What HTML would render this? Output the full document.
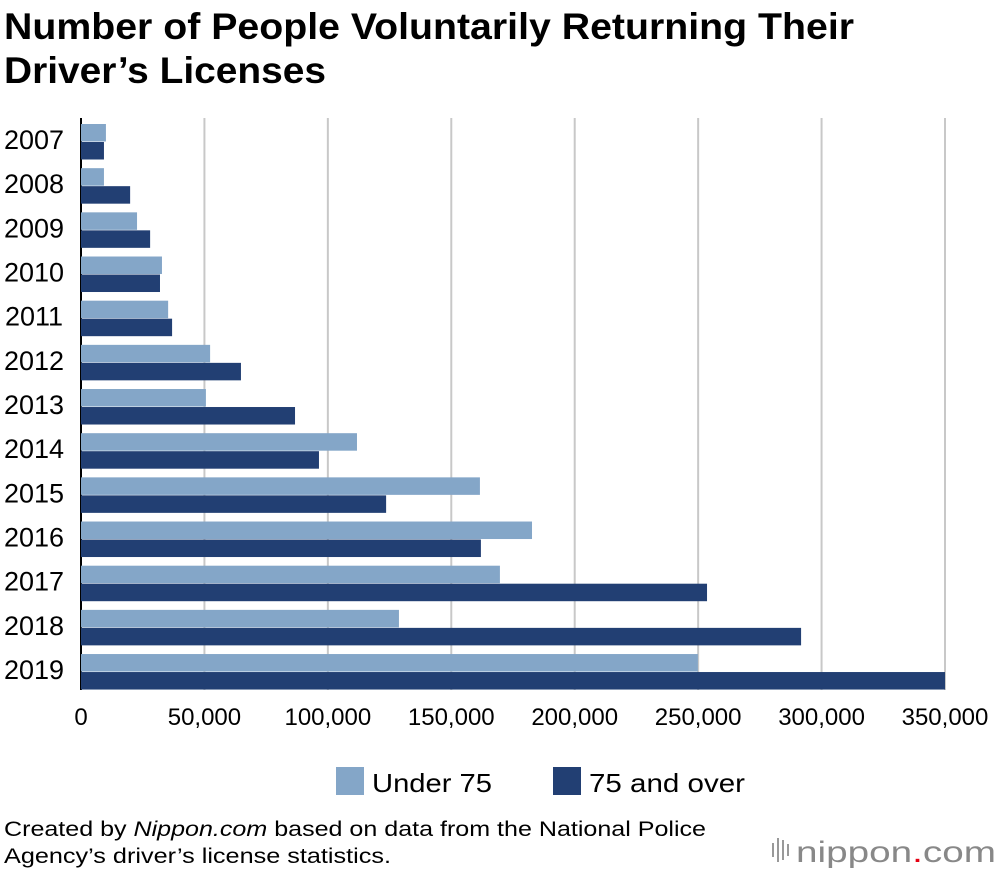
<!DOCTYPE html>
<html><head><meta charset="utf-8"><style>
body{margin:0;background:#fff;font-family:"Liberation Sans",Arial,sans-serif;}
#wrap{position:relative;width:1000px;height:872px;overflow:hidden;}
</style></head><body>
<div id="wrap">
<svg id="chart" width="1000" height="872" xmlns="http://www.w3.org/2000/svg">
<text x="4" y="39" font-size="37" font-weight="bold" fill="#000" textLength="850" lengthAdjust="spacingAndGlyphs">Number of People Voluntarily Returning Their</text>
<text x="4" y="83" font-size="37" font-weight="bold" fill="#000" textLength="322" lengthAdjust="spacingAndGlyphs">Driver’s Licenses</text>
<g id="grid"></g><g id="bars"></g><g id="ylabels"></g><g id="xlabels"></g>
<g>
<rect x="336" y="767" width="28" height="28" fill="#84a6c8"/>
<text x="372" y="792" font-size="26" fill="#000" textLength="120" lengthAdjust="spacingAndGlyphs">Under 75</text>
<rect x="553" y="767" width="28" height="28" fill="#223f73"/>
<text x="589" y="792" font-size="26" fill="#000" textLength="156" lengthAdjust="spacingAndGlyphs">75 and over</text>
</g>
<text x="4" y="836" font-size="21" fill="#000" textLength="702" lengthAdjust="spacingAndGlyphs">Created by <tspan font-style="italic">Nippon.com</tspan> based on data from the National Police</text>
<text x="4" y="863" font-size="21" fill="#000" textLength="387" lengthAdjust="spacingAndGlyphs">Agency’s driver’s license statistics.</text>
<g>
<rect x="772" y="843" width="2" height="14" fill="#999"/><rect x="777" y="838" width="2" height="24" fill="#999"/><rect x="782" y="840" width="2" height="20" fill="#999"/><rect x="787" y="844" width="2" height="12" fill="#999"/>
<text x="796" y="862" font-size="30" fill="#888" textLength="200" lengthAdjust="spacingAndGlyphs">nippon<tspan fill="#e60012">.</tspan>com</text>
</g>
</svg>
</div>
<script>
const years=["2007","2008","2009","2010","2011","2012","2013","2014","2015","2016","2017","2018","2019"];
const under75=[10100,9300,22700,32800,35300,52300,50600,111800,161600,182700,169700,128800,249900];
const over75=[9300,19900,28000,32000,36900,64800,86700,96400,123600,162000,253600,291700,350000];
const xTicks=[0,50000,100000,150000,200000,250000,300000,350000];
const tickLabels=["0","50,000","100,000","150,000","200,000","250,000","300,000","350,000"];
const NS="http://www.w3.org/2000/svg";
const X0=81,X1=945,XMAX=350000,ROWTOP=123,PITCH=44.17,BH=17.5;
const xs=v=>X0+(v/XMAX)*(X1-X0);
function mk(t,a,p){const e=document.createElementNS(NS,t);for(const k in a)e.setAttribute(k,a[k]);p.appendChild(e);return e;}
const grid=document.getElementById('grid'),bars=document.getElementById('bars'),yl=document.getElementById('ylabels'),xl=document.getElementById('xlabels');
xTicks.forEach((t,i)=>{
 if(i>0){const l=mk('line',{x1:xs(t),x2:xs(t),y1:118,y2:690,stroke:'#c8c8c8','stroke-width':2},grid);
 
 }
 const tx=mk('text',{x:xs(t),y:725,'font-size':24,'text-anchor':'middle',fill:'#000'},xl);
 tx.textContent=tickLabels[i];
 
 
});
years.forEach((y,i)=>{
 const yt=ROWTOP+i*PITCH;
 const a=mk('rect',{x:X0,y:yt+1,width:xs(under75[i])-X0,height:BH,fill:'#84a6c8'},bars);
 
 
 const b=mk('rect',{x:X0,y:yt+1+BH+0.5,width:xs(over75[i])-X0,height:BH,fill:'#223f73'},bars);
 
 
 const t=mk('text',{x:34,y:yt+26,'font-size':27,'text-anchor':'middle',fill:'#000'},yl);
 t.textContent=y;
 
 
});
const ax=mk('line',{x1:X0,x2:X0,y1:118,y2:690,stroke:'#000','stroke-width':2},grid);


</script>
</body></html>
